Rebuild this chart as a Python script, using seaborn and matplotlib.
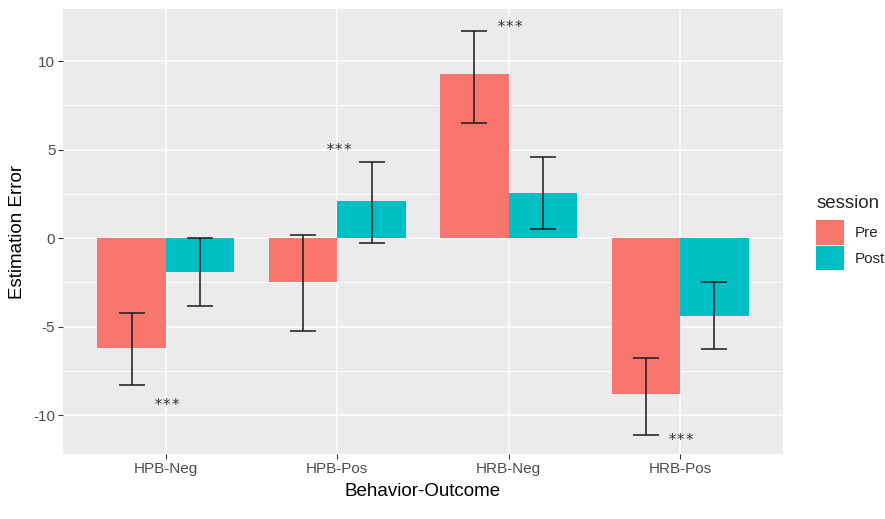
import matplotlib
matplotlib.use("Agg")
import matplotlib.pyplot as plt
import seaborn as sns
import pandas as pd
import numpy as np
from matplotlib.patches import Patch

categories = ["HPB-Neg", "HPB-Pos", "HRB-Neg", "HRB-Pos"]
sessions = ["Pre", "Post"]
pre_mean = [-6.2, -2.5, 9.3, -8.8]
post_mean = [-1.9, 2.1, 2.55, -4.4]
pre_low = [-8.3, -5.25, 6.5, -11.15]
pre_high = [-4.25, 0.2, 11.7, -6.8]
post_low = [-3.85, -0.3, 0.5, -6.25]
post_high = [0.0, 4.3, 4.6, -2.5]
star_labels = ["***", "***", "***", "***"]
star_y = [-9.3, 5.1, 12.1, -11.25]
yticks = [-10, -5, 0, 5, 10]

colors = {"Pre": "#F8766D", "Post": "#00BFC4"}

df = pd.DataFrame({
    "Behavior-Outcome": categories * 2,
    "session": ["Pre"] * 4 + ["Post"] * 4,
    "mean": pre_mean + post_mean,
    "low": pre_low + post_low,
    "high": pre_high + post_high,
})

sns.set_theme(style="darkgrid")
plt.rcParams["font.family"] = ["Liberation Sans", "DejaVu Sans"]
plt.rcParams["axes.unicode_minus"] = False

fig = plt.figure(figsize=(8.85, 5.19), dpi=100)
ax = fig.add_axes([63 / 885, (519 - 454) / 519, (783 - 63) / 885, (454 - 9) / 519])
ax.set_facecolor("#EBEBEB")

sns.barplot(data=df, x="Behavior-Outcome", y="mean", hue="session",
            hue_order=sessions, order=categories, palette=colors,
            errorbar=None, width=0.8, linewidth=0, saturation=1, ax=ax, zorder=2)

for sess, cont in zip(sessions, ax.containers):
    sub = df[df["session"] == sess].set_index("Behavior-Outcome").loc[categories]
    xs = [b.get_x() + b.get_width() / 2 for b in cont]
    m = sub["mean"].values
    ax.errorbar(xs, m, yerr=[m - sub["low"].values, sub["high"].values - m],
                fmt="none", ecolor="#1a1a1a", elinewidth=1.1, capsize=9.5,
                capthick=1.1, zorder=3)

for i, (lab, yy) in enumerate(zip(star_labels, star_y)):
    ax.annotate(lab, (i + 0.01, yy), xytext=(0, -3), textcoords="offset pixels",
                ha="center", va="center", fontsize=11,
                family="DejaVu Sans Mono", color="#333333", zorder=4)

ax.set_xlim(-0.6, 3.6)
ax.set_ylim(-12.2, 12.95)
ax.set_yticks(yticks)
ax.set_yticks([-7.5, -2.5, 2.5, 7.5], minor=True)
ax.grid(which="major", color="white", linewidth=1.1)
ax.grid(which="minor", axis="y", color="white", linewidth=0.55)
ax.set_axisbelow(True)
for s in ax.spines.values():
    s.set_visible(False)
ax.tick_params(axis="both", which="major", length=3.5, width=0.8, color="#333333",
               labelcolor="#4D4D4D", labelsize=11, pad=2, bottom=True, left=True)
ax.tick_params(axis="both", which="minor", length=0)
ax.set_xlabel("Behavior-Outcome", fontsize=13.5, color="black", labelpad=5)
ax.set_ylabel("Estimation Error", fontsize=13.5, color="black", labelpad=5)

ax.get_legend().remove()
handles = [Patch(facecolor=colors[s], edgecolor="none") for s in sessions]
leg = fig.legend(handles, sessions, title="session", loc="upper left",
                 bbox_to_anchor=(810 / 885, 1 - 189 / 519), frameon=False,
                 fontsize=11, title_fontsize=13.5, handlelength=1.85,
                 handleheight=2.05, labelspacing=0.1, handletextpad=0.7,
                 borderaxespad=0)
leg._legend_box.align = "left"
leg._legend_box.sep = 6

fig.savefig("out.png", dpi=100)
